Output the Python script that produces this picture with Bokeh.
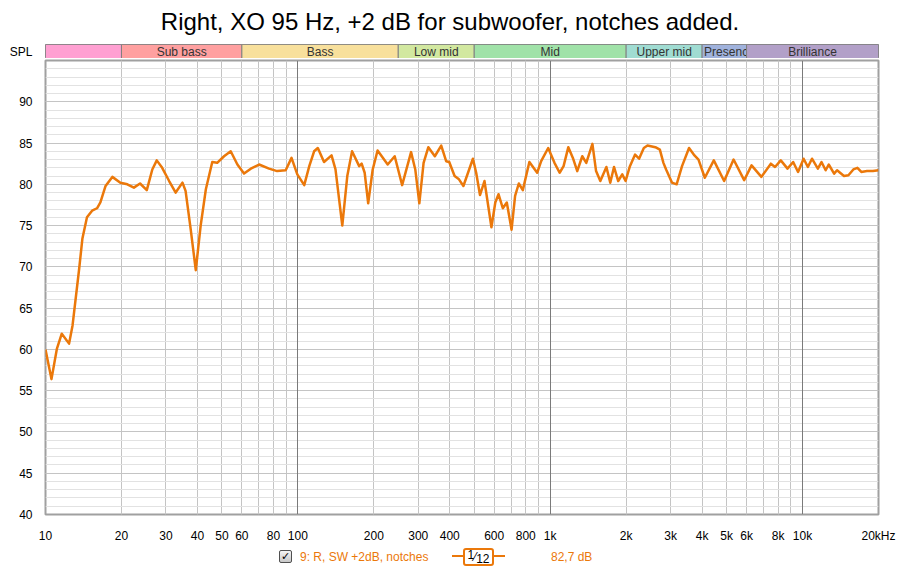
from bokeh.plotting import figure
from bokeh.layouts import column
from bokeh.models import Range1d, FixedTicker, Grid, Div
from bokeh.core.properties import value
from bokeh.embed import file_html
from bokeh.resources import INLINE

TITLE = "Right, XO 95 Hz, +2 dB for subwoofer, notches added."

freq = [10.0, 10.56, 11.1, 11.6, 12.4, 12.8, 13.6, 14.0, 14.6, 15.3, 16.0, 16.5, 17.3, 18.4,
        19.8, 21.1, 22.4, 23.7, 25.2, 26.5, 27.6, 29.0, 30.9, 32.8, 34.9, 35.9, 37.6, 39.4,
        41.2, 43.2, 45.8, 47.9, 51.0, 54.2, 57.6, 61.2, 65.1, 70.2, 76.9, 82.8, 89.5, 94.4,
        99.5, 106, 111, 116, 120, 127, 136, 141, 150, 157, 164, 175, 179, 184, 190, 198,
        207, 227, 242, 259, 281, 292, 303, 315, 329, 349, 370, 387, 398, 418, 435, 453,
        494, 509, 527, 549, 585, 606, 624, 649, 673, 703, 726, 751, 779, 827, 888, 921,
        982, 1040, 1090, 1130, 1180, 1230, 1280, 1340, 1390, 1470, 1520, 1580, 1670, 1730,
        1790, 1860, 1930, 1990, 2070, 2170, 2250, 2350, 2430, 2610, 2720, 2810, 2880, 3040,
        3170, 3330, 3550, 3730, 3870, 4100, 4450, 4890, 5330, 5870, 6280, 6870, 7490, 7780,
        8200, 8720, 9180, 9600, 10100, 10500, 10900, 11500, 11890, 12350, 12700, 13340,
        13700, 14600, 15200, 15900, 16500, 17100, 18000, 19000, 20000]
spl = [60.0, 56.4, 60.1, 61.9, 60.7, 62.9, 69.8, 73.4, 76.0, 76.8, 77.1, 77.8, 79.8, 80.9,
       80.2, 80.0, 79.6, 80.1, 79.3, 81.8, 82.9, 82.0, 80.4, 79.0, 80.2, 79.2, 74.6, 69.6,
       75.0, 79.4, 82.7, 82.6, 83.4, 84.0, 82.4, 81.3, 81.9, 82.4, 81.9, 81.6, 81.7, 83.2,
       81.2, 79.9, 82.2, 84.0, 84.4, 82.7, 83.5, 81.8, 75.0, 81.0, 84.0, 82.2, 82.5, 81.4,
       77.7, 81.8, 84.1, 82.4, 83.4, 79.9, 83.9, 81.8, 77.7, 82.6, 84.5, 83.4, 84.7, 82.8,
       82.7, 81.0, 80.6, 79.8, 83.1, 81.4, 78.7, 80.4, 74.8, 77.8, 78.8, 77.1, 77.8, 74.5,
       78.6, 80.1, 79.3, 82.7, 81.4, 82.8, 84.4, 82.6, 81.4, 82.2, 84.5, 83.2, 81.6, 83.4,
       82.6, 84.9, 81.6, 80.4, 82.1, 80.2, 82.1, 80.4, 81.2, 80.4, 82.2, 83.6, 83.1, 84.4,
       84.7, 84.5, 84.2, 82.6, 81.8, 80.2, 80.0, 82.2, 84.4, 83.5, 83.0, 80.8, 82.9, 80.4,
       83.0, 80.5, 82.3, 80.9, 82.5, 82.1, 82.9, 81.9, 82.7, 81.5, 83.1, 82.1, 83.1, 81.9,
       82.7, 81.7, 82.4, 81.3, 81.7, 81.0, 81.1, 81.8, 82.0, 81.5, 81.6, 81.6, 81.7]

band_names = ["", "Sub bass", "Bass", "Low mid", "Mid", "Upper mid", "Presence", "Brilliance"]
band_lo = [10, 20, 60, 250, 500, 2000, 4000, 6000]
band_hi = [20, 60, 250, 500, 2000, 4000, 6000, 20000]
band_colors = ["#ffa0d2", "#ffa0a0", "#f8e09c", "#d2e8a0", "#a0e2a8", "#a0dcd2",
               "#a0b2dc", "#b2a0c8"]

x_ticks = [10, 20, 30, 40, 50, 60, 80, 100, 200, 300, 400, 600, 800, 1000, 2000, 3000,
           4000, 5000, 6000, 8000, 10000, 20000]
x_tick_labels = ["10", "20", "30", "40", "50", "60", "80", "100", "200", "300", "400",
                 "600", "800", "1k", "2k", "3k", "4k", "5k", "6k", "8k", "10k", "20kHz"]
x_grid = [20, 30, 40, 50, 60, 70, 80, 90, 200, 300, 400, 500, 600, 700, 800, 900,
          2000, 3000, 4000, 5000, 6000, 7000, 8000, 9000]
x_decades = [100, 1000, 10000]
y_ticks = [40, 45, 50, 55, 60, 65, 70, 75, 80, 85, 90]
y_minor = list(range(40, 96))

legend_name = "9: R, SW +2dB, notches"
legend_smooth = ("1", "12")
legend_level = "82,7 dB"

ORANGE = "#eb780a"
FONT = "Liberation Sans"
W = 900

title_div = Div(text=TITLE, width=W, height=44, margin=0,
                styles={"font-family": FONT, "font-size": "24px", "color": "#000",
                        "text-align": "center", "line-height": "43px",
                        "white-space": "nowrap"})

x_range = Range1d(10, 20000)

# frequency band strip above the graph
band = figure(width=W, height=14, x_range=x_range, y_range=Range1d(0, 1),
              x_axis_type="log", x_axis_location=None,
              min_border_top=0, min_border_bottom=0, min_border_left=45,
              min_border_right=22, output_backend="svg", toolbar_location=None)
band.grid.grid_line_color = None
band.outline_line_color = "#808080"
band.yaxis.ticker = FixedTicker(ticks=[0.5])
band.yaxis.major_label_overrides = {0.5: "SPL"}
band.yaxis.axis_line_color = None
band.yaxis.major_tick_line_color = None
band.yaxis.minor_tick_line_color = None
band.yaxis.major_label_standoff = 7
band.yaxis.major_label_text_font = FONT
band.yaxis.major_label_text_font_size = "12px"
band.yaxis.major_label_text_color = "#000000"
for name, lo, hi, col in zip(band_names, band_lo, band_hi, band_colors):
    band.quad(left=[lo], right=[hi], bottom=[0], top=[1], fill_color=col,
              line_color="#808080", line_width=1)
    if name:
        left = name == "Presence"
        band.text(x=[lo if left else (lo * hi) ** 0.5], y=[0.5], text=[name],
                  text_align="left" if left else "center", text_baseline="middle",
                  x_offset=2 if left else 0,
                  text_font=value(FONT), text_font_size="12px", text_color="#333333")

# main graph
p = figure(width=W, height=487, x_range=x_range, y_range=Range1d(40, 95),
           x_axis_type="log", min_border_top=2, min_border_bottom=28,
           min_border_left=45, min_border_right=22,
           output_backend="svg", toolbar_location=None)
p.outline_line_color = "#a0a0a0"
p.outline_line_width = 2

p.xaxis.ticker = FixedTicker(ticks=x_ticks, minor_ticks=x_grid)
p.xaxis.major_label_overrides = {t: s for t, s in zip(x_ticks, x_tick_labels)}
p.yaxis.ticker = FixedTicker(ticks=y_ticks, minor_ticks=y_minor)
for ax in (p.xaxis, p.yaxis):
    ax.axis_line_color = None
    ax.major_tick_line_color = None
    ax.minor_tick_line_color = None
    ax.major_label_text_font = FONT
    ax.major_label_text_font_size = "12px"
    ax.major_label_text_color = "#000000"
p.xaxis.major_label_standoff = 8
p.yaxis.major_label_standoff = 7

p.xgrid.grid_line_color = "#c4c4c4"
p.xgrid.minor_grid_line_color = "#c4c4c4"
p.ygrid.grid_line_color = "#c4c4c4"
p.ygrid.minor_grid_line_color = "#e2e2e2"
p.add_layout(Grid(dimension=0, ticker=FixedTicker(ticks=x_decades),
                  grid_line_color="#7a7a7a"))

p.line(freq, spl, line_color=ORANGE, line_width=2.5, line_join="round")

# legend row under the graph
legend_html = (
    f'<div style="position:relative;width:{W}px;height:24px;font-family:{FONT};'
    f'font-size:12px;">'
    '<span style="position:absolute;display:block;box-sizing:border-box;left:279px;top:5px;'
    'width:13px;height:13px;border:1px solid #505050;border-radius:2px;'
    'background:linear-gradient(#f4f4f4,#c8c8c8);font-family:\'DejaVu Sans\';'
    'font-size:11px;font-weight:bold;line-height:11px;text-align:center;color:#000;">'
    '\u2713</span>'
    f'<span style="position:absolute;left:300px;top:4px;color:{ORANGE};">{legend_name}</span>'
    f'<span style="position:absolute;display:block;left:452px;top:10px;width:53px;'
    f'height:2px;background:{ORANGE};"></span>'
    f'<span style="position:absolute;display:block;box-sizing:border-box;left:463px;top:3px;'
    f'width:31px;height:18px;border:2px solid {ORANGE};border-radius:3px;background:#fff;'
    f'text-align:center;line-height:14px;color:#000;font-size:12px;">'
    f'<span style="position:relative;top:-2px;">{legend_smooth[0]}</span>\u2044'
    f'<span style="position:relative;top:2px;">{legend_smooth[1]}</span></span>'
    f'<span style="position:absolute;left:551px;top:4px;color:{ORANGE};">{legend_level}</span>'
    '</div>'
)
legend_div = Div(text=legend_html, width=W, height=24, margin=0)

layout = column(title_div, band, p, legend_div)
open("out.html", "w").write(file_html(layout, INLINE))
